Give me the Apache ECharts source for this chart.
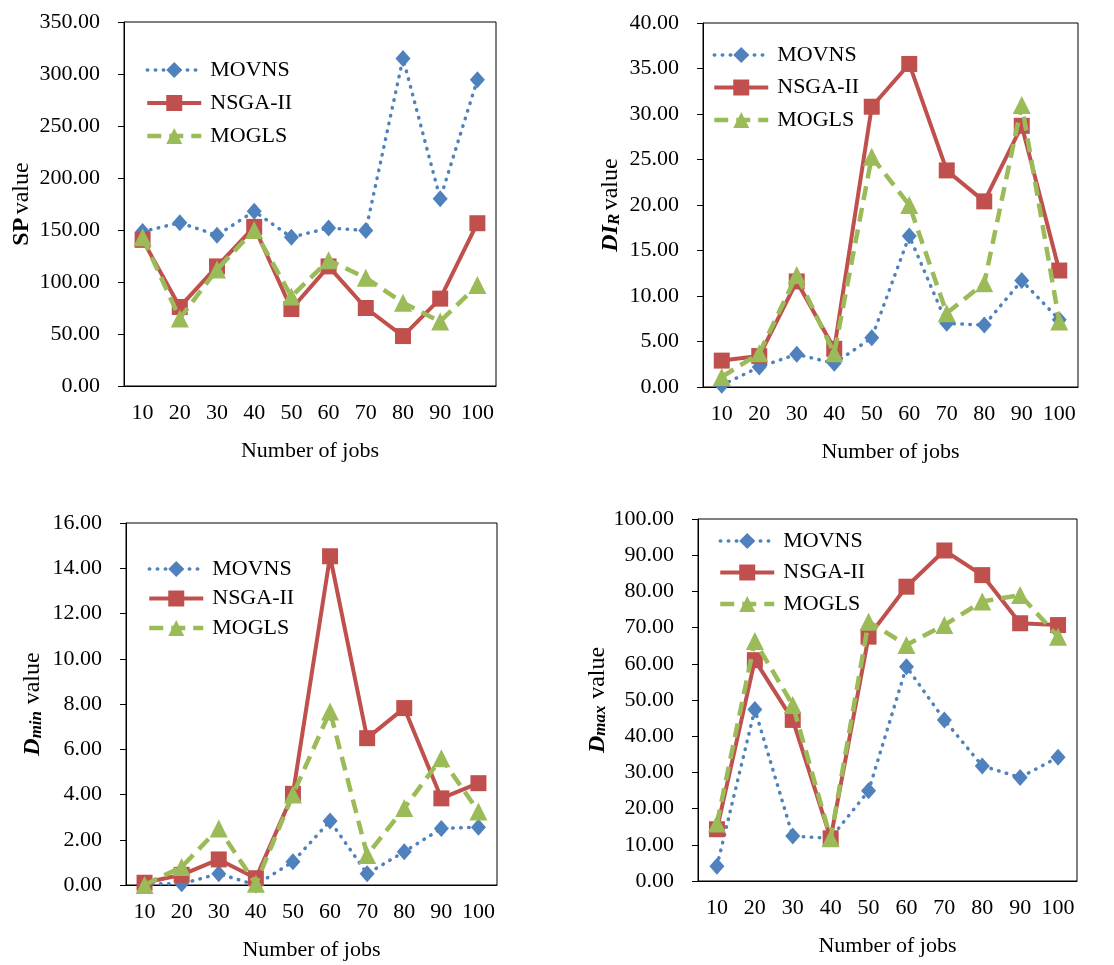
<!DOCTYPE html>
<html>
<head>
<meta charset="utf-8">
<script src="https://cdn.jsdelivr.net/npm/echarts@6/dist/echarts.min.js"></script>
<style>html,body{margin:0;padding:0;background:#fff}#c{width:1114px;height:965px}</style>
</head>
<body>
<div id="c"></div>
<script>
const categories = ['10','20','30','40','50','60','70','80','90','100'];
const seriesNames = ['MOVNS','NSGA-II','MOGLS'];

// Panel 1: SP value
const spMOVNS = [148.5,157,145,168,143,152,149.5,315,180,294.5];
const spNSGA  = [140.5,76,115,153,74,115,75,48,84,156.5];
const spMOGLS = [143,65,112,150,86,121,104,80,62,97];

// Panel 2: DI_R value
const diMOVNS = [0.2,2.2,3.6,2.6,5.4,16.6,7.0,6.8,11.7,7.4];
const diNSGA  = [2.9,3.4,11.6,4.2,30.8,35.5,23.8,20.4,28.7,12.8];
const diMOGLS = [1.1,3.7,12.3,3.7,25.3,20.0,8.1,11.4,31.0,7.2];

// Panel 3: D_min value
const dminMOVNS = [0.05,0.05,0.5,0.0,1.03,2.83,0.5,1.47,2.5,2.55];
const dminNSGA  = [0.1,0.45,1.13,0.3,4.03,14.53,6.49,7.82,3.83,4.5];
const dminMOGLS = [0.0,0.8,2.5,0.05,4.0,7.67,1.33,3.4,5.6,3.25];

// Panel 4: D_max value
const dmaxMOVNS = [4.1,47.4,12.4,11.8,24.9,59.2,44.5,31.8,28.6,34.2];
const dmaxNSGA  = [14.3,61.0,44.5,11.8,67.5,81.3,91.3,84.5,71.2,70.7];
const dmaxMOGLS = [15.9,66.3,48.6,11.8,71.6,65.2,70.7,77.2,79.0,67.5];

const yMax = [350, 40, 16, 100];
const yInterval = [50, 5, 2, 10];

const FONT = 'Liberation Serif';
const BLUE = '#4F81BD', RED = '#C0504D', GREEN = '#9BBB59';

const grids = [
  {left:124, top:22, width:372, height:364},
  {left:703, top:23, width:375, height:364},
  {left:126, top:523, width:371, height:362},
  {left:698, top:519, width:379, height:362}
];
const legendPos = [
  {left:140, top:54, itemGap:11},
  {left:707, top:39, itemGap:10.5},
  {left:142, top:553, itemGap:7.5},
  {left:713, top:525, itemGap:9.5}
];
const nameGaps = [90, 80, 81, 86];

const baseRich = {
  n:{fontFamily:FONT, fontSize:24, color:'#000', lineHeight:24, verticalAlign:'top'},
  b:{fontFamily:FONT, fontSize:24, color:'#000', fontWeight:'bold', lineHeight:24, verticalAlign:'top'},
  bi:{fontFamily:FONT, fontSize:24, color:'#000', fontWeight:'bold', fontStyle:'italic', lineHeight:24, verticalAlign:'top'},
  sub:{fontFamily:FONT, fontSize:17, color:'#000', fontWeight:'bold', fontStyle:'italic', lineHeight:18, verticalAlign:'bottom', padding:[11,0,0,0]}
};
const yNames = [
  '{b|SP} {n|value}',
  '{bi|DI}{sub|R} {n|value}',
  '{bi|D}{sub|min}  {n|value}',
  '{bi|D}{sub|max}  {n|value}'
];

const data = [
  [spMOVNS, spNSGA, spMOGLS],
  [diMOVNS, diNSGA, diMOGLS],
  [dminMOVNS, dminNSGA, dminMOGLS],
  [dmaxMOVNS, dmaxNSGA, dmaxMOGLS]
];

const styles = [
  {color:BLUE, symbol:'diamond', symbolSize:[15,17], line:{width:3.5, type:[0.5,7.5], cap:'round'}},
  {color:RED, symbol:'rect', symbolSize:16, line:{width:4, type:'solid'}},
  {color:GREEN, symbol:'triangle', symbolSize:18, line:{width:4.5, type:[14,8], cap:'butt'}}
];

const option = {
  animation:false,
  backgroundColor:'#fff',
  grid: grids.map(g => Object.assign({show:true, borderColor:'#000', borderWidth:1, backgroundColor:'transparent'}, g)),
  xAxis: grids.map((g,i) => ({
    type:'category', gridIndex:i, data:categories, boundaryGap:true,
    name:'Number of jobs', nameLocation:'middle', nameGap:54,
    nameTextStyle:{fontFamily:FONT, fontSize:22, color:'#000'},
    axisLine:{lineStyle:{color:'#000', width:1}},
    axisTick:{show:false},
    axisLabel:{fontFamily:FONT, fontSize:22, color:'#000', margin:16, interval:0},
    splitLine:{show:false}
  })),
  yAxis: grids.map((g,i) => ({
    type:'value', gridIndex:i, min:0, max:yMax[i], interval:yInterval[i],
    name:yNames[i], nameLocation:'middle', nameRotate:90, nameGap:nameGaps[i],
    nameTextStyle:{rich:baseRich},
    axisLine:{show:true, lineStyle:{color:'#000', width:1}},
    axisTick:{show:true, inside:false, length:6, lineStyle:{color:'#000'}},
    axisLabel:{fontFamily:FONT, fontSize:22, color:'#000', margin:24, formatter:v => v.toFixed(2)},
    splitLine:{show:false}
  })),
  legend: legendPos.map((p,i) => ({
    orient:'vertical', left:p.left, top:p.top, itemGap:p.itemGap,
    itemWidth:54, itemHeight:20,
    data:seriesNames.map((nm,k) => ({name:nm, lineStyle:{width:styles[k].line.width}})),
    textStyle:{fontFamily:FONT, fontSize:22, color:'#000', padding:[0,0,0,4]}
  })),
  series: []
};

data.forEach((panel, i) => {
  panel.forEach((vals, k) => {
    const s = styles[k];
    option.series.push({
      type:'line', name:seriesNames[k], xAxisIndex:i, yAxisIndex:i,
      data:vals, symbol:s.symbol, symbolSize:s.symbolSize,
      showAllSymbol:true,
      itemStyle:{color:s.color, borderWidth:0},
      lineStyle:Object.assign({color:s.color}, s.line),
      emphasis:{disabled:true},
      z: 2 + k
    });
  });
});

const chart = echarts.init(document.getElementById('c'), null, {renderer:'canvas'});
chart.setOption(option);
</script>
</body>
</html>
